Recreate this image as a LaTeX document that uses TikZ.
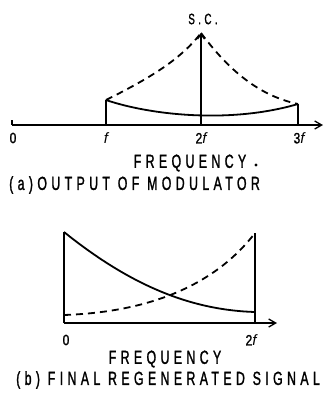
\documentclass[tikz,border=0pt]{standalone}
\usepackage{fontspec}
\setmainfont{Liberation Sans}
\newfontfamily\capfont[FakeStretch=0.65,LetterSpace=23,FakeBold=1.3]{Liberation Sans}
\newfontfamily\labfont[FakeStretch=0.8,FakeBold=1.3]{Liberation Sans}
\usetikzlibrary{arrows.meta}
\tikzset{
  axis/.style={line width=1.4pt,-{Straight Barb[length=7pt,width=8pt,line width=1.3pt]}},
  curve/.style={line width=1.8pt},
  dcurve/.style={line width=1.8pt,dash pattern=on 7pt off 5pt},
  vline/.style={line width=1.4pt},
  captxt/.style={font=\capfont\fontsize{19}{19}\selectfont,inner sep=0pt},
  sctxt/.style={font=\capfont\fontsize{15}{15}\selectfont,inner sep=0pt},
  lab/.style={font=\labfont\fontsize{15}{15}\selectfont,inner sep=0pt},
}
\newcommand{\ff}{{\rmfamily\itshape f}}
\begin{document}
\begin{tikzpicture}[x=1pt,y=-1pt]
\useasboundingbox (0,0) rectangle (327,399);
% ---- (a)
\coordinate (a0) at (12,125);
\coordinate (aend) at (323,125);
\coordinate (af) at (106,125);
\coordinate (a2f) at (201,125);
\coordinate (a3f) at (298,125);
\coordinate (aft) at (106,100);
\coordinate (apk) at (201,33);
\coordinate (a3t) at (298,104);
\draw[vline] (12,120) -- (a0);
\draw[axis] (a0) -- (aend);
\draw[vline] (af) -- (aft);
\draw[vline] (a3f) -- (a3t);
\draw[vline,-{Straight Barb[length=5pt,width=7pt,line width=1.3pt]}] (a2f) -- (apk);
\draw[curve] (aft) .. controls (150,115) and (230,124) .. (a3t);
\draw[dcurve] (aft) .. controls (150,78) and (180,60) .. (apk);
\draw[dcurve] (apk) .. controls (225,65) and (255,95) .. (a3t);
\node[sctxt] (sc) at (203,19) {S.C.};
\node[lab] (l0) at (13,138) {0};
\node[lab] (lf) at (106,138) {\ff};
\node[lab] (l2f) at (201,138) {2\ff};
\node[lab] (l3f) at (299,138) {3\ff};
\node[captxt] (fa) at (190,163) {FREQUENCY};
\fill (256,165) circle (1.6pt);
\node[captxt,anchor=west] (ta) at (9,185) {(a)OUTPUT OF MODULATOR};
% ---- (b)
\coordinate (b0) at (64,323);
\coordinate (bend) at (277,323);
\coordinate (b2f) at (255,323);
\coordinate (blt) at (64,232);
\coordinate (brt) at (255,233);
\coordinate (bsl) at (64,315);
\coordinate (bsr) at (255,312);
\draw[axis] (b0) -- (bend);
\draw[vline] (b0) -- (blt);
\draw[vline] (b2f) -- (brt);
\draw[curve] (blt) .. controls (130,285) and (190,310) .. (bsr);
\draw[dcurve] (bsl) .. controls (150,312) and (215,285) .. (brt);
\node[lab] (m0) at (66,340) {0};
\node[lab] (m2f) at (251,340) {2\ff};
\node[captxt] (fb) at (165,359) {FREQUENCY};
\node[captxt,anchor=west] (tb) at (16,380) {(b) FINAL REGENERATED SIGNAL};
\end{tikzpicture}
\end{document}
